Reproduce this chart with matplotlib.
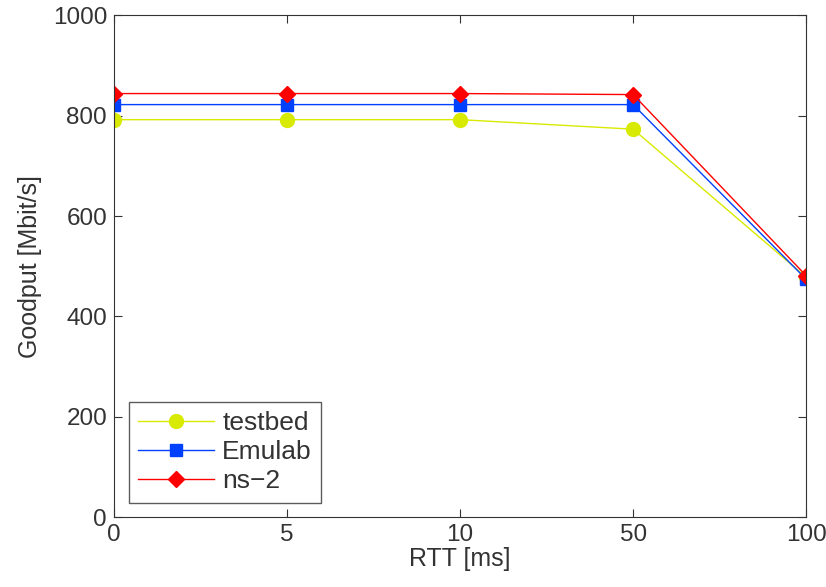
import matplotlib
matplotlib.use("Agg")
import matplotlib.pyplot as plt

rtt_labels = ["0", "5", "10", "50", "100"]
testbed = [792, 792, 792, 773, 478]
emulab = [822, 822, 822, 822, 474]
ns2 = [844, 844, 844, 842, 481]

plt.rcParams['font.family'] = ['Liberation Sans', 'DejaVu Sans']

fig = plt.figure(figsize=(8.26, 5.87), dpi=100)
ax = fig.add_axes([0.138, 0.119, 0.838, 0.855])

x = list(range(len(rtt_labels)))
ax.plot(x, testbed, color="#d8ea00", marker="o", markersize=10, lw=1, label="testbed")
ax.plot(x, emulab, color="#0040ff", marker="s", markersize=8, lw=1, label="Emulab")
ax.plot(x, ns2, color="#ff0000", marker="D", markersize=8, lw=1, label="ns\u22122")

ax.set_xlim(0, 4)
ax.set_ylim(0, 1000)
ax.set_xticks(x)
ax.set_xticklabels(rtt_labels)
ax.set_yticks(range(0, 1001, 200))
ax.tick_params(direction="in", top=True, right=True, labelsize=17.5, colors="#333333",
               length=6, pad=5)
for s in ax.spines.values():
    s.set_color("#333333")
ax.set_xlabel("RTT [ms]", fontsize=18, color="#333333", labelpad=1)
ax.set_ylabel("Goodput [Mbit/s]", fontsize=18, color="#333333", labelpad=8)

leg = ax.legend(loc="lower left", fontsize=19, fancybox=False, edgecolor="#333333",
                handlelength=2.9, labelspacing=0.2, borderaxespad=0.55,
                borderpad=0.35, handletextpad=0.3)
leg.get_frame().set_linewidth(1)
for t in leg.get_texts():
    t.set_color("#333333")

fig.savefig("out.png", dpi=100)
